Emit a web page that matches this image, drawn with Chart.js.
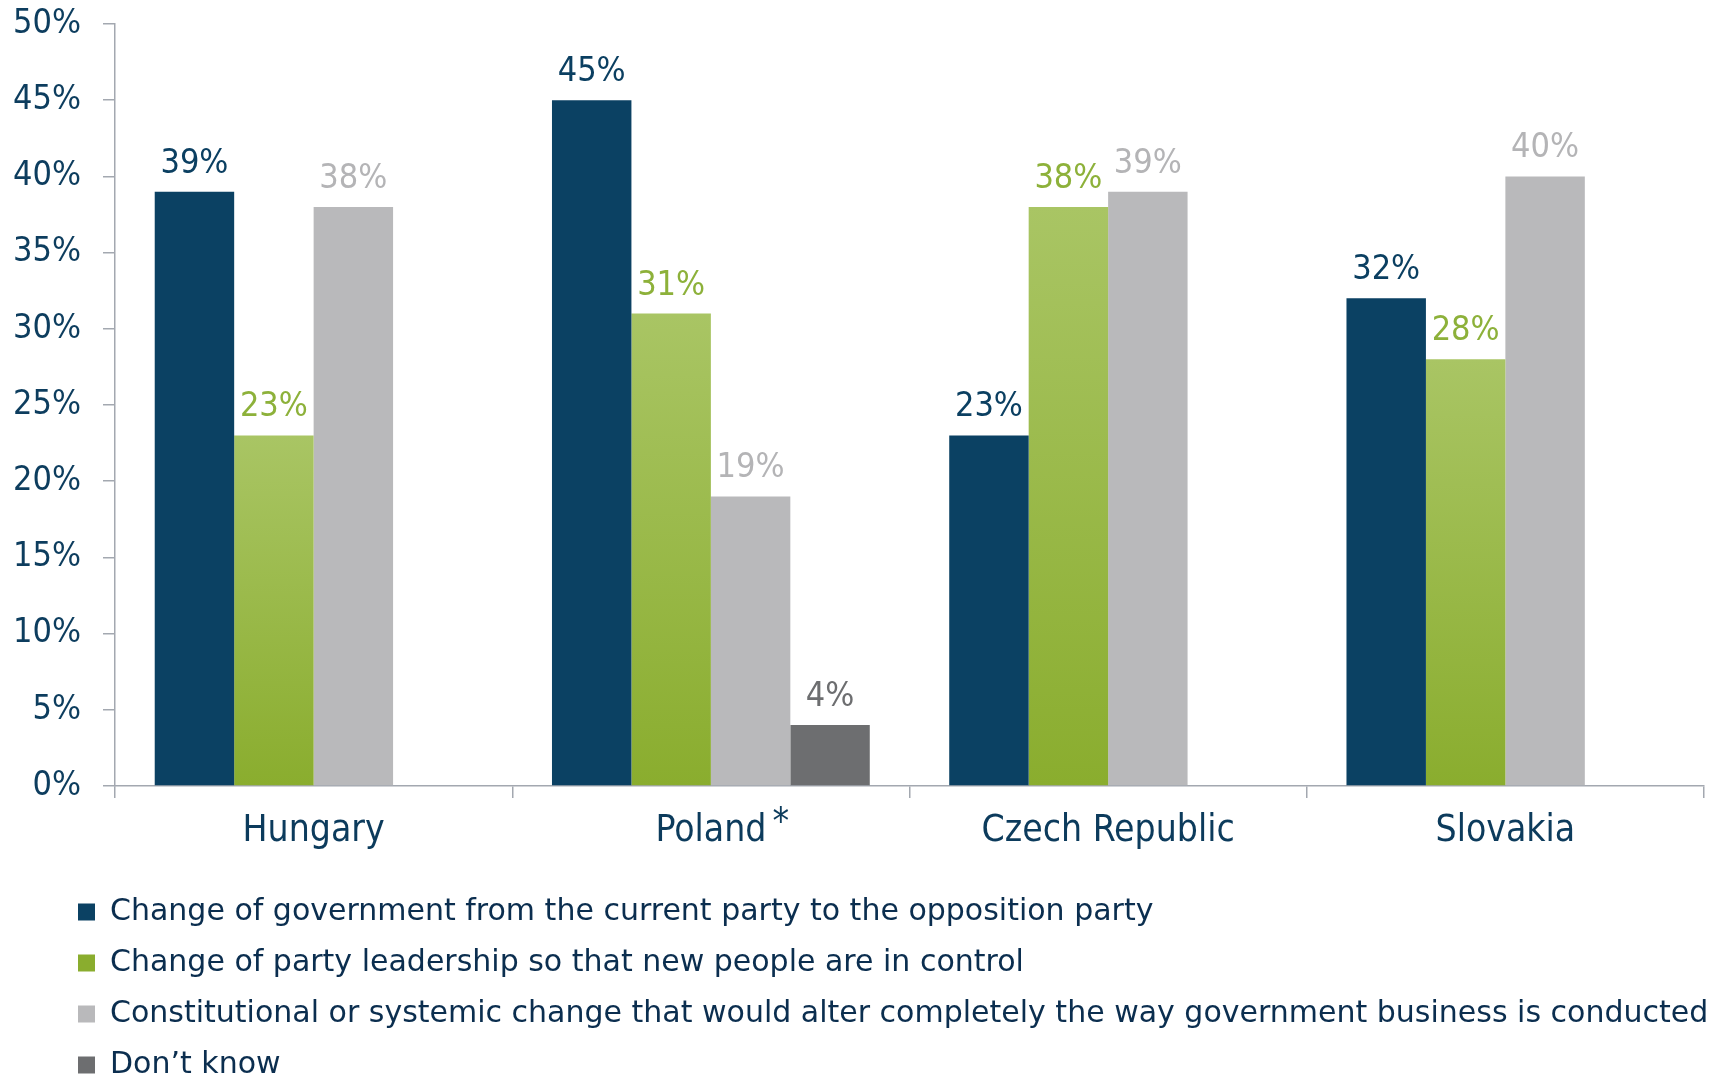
<!DOCTYPE html>
<html>
<head>
<meta charset="utf-8">
<script src="https://cdn.jsdelivr.net/npm/chart.js@4/dist/chart.umd.min.js"></script>
<style>
  html, body { margin: 0; padding: 0; background: #ffffff; overflow: hidden; }
  #wrap { width: 1712px; height: 1076px; position: relative; }
</style>
</head>
<body>
<div id="wrap"><canvas id="c" width="1712" height="1076"></canvas></div>
<script>
// ---- data ----
const categories = ['Hungary', 'Poland', 'Czech Republic', 'Slovakia'];
const footnoteMarks = ['', '*', '', ''];
const seriesNames = [
  'Change of government from the current party to the opposition party',
  'Change of party leadership so that new people are in control',
  'Constitutional or systemic change that would alter completely the way government business is conducted',
  'Don\u2019t know'
];
const changeOfGovernment = [39, 45, 23, 32];
const changeOfLeadership = [23, 31, 38, 28];
const systemicChange = [38, 19, 39, 40];
const dontKnow = [null, 4, null, null];
const yTicks = [0, 5, 10, 15, 20, 25, 30, 35, 40, 45, 50];

// ---- style ----
const FONT_C = '"DejaVu Sans Condensed", "DejaVu Sans", sans-serif';
const FONT = '"DejaVu Sans", sans-serif';
const NAVY = '#0b4163';
const GREEN_TOP = '#a9c564';
const GREEN_BOTTOM = '#8aad2e';
const GRAY = '#b9b9bb';
const DARK_GRAY = '#6d6e70';
const AXIS = '#a3a8b0';
const labelColors = ['#0b3f61', '#8db13a', '#b4b4b6', '#6d6e70'];
const LEGEND_INDENT = 47;

function greenFill(ctx) {
  const chart = ctx.chart;
  if (ctx.type !== 'data' || !chart.chartArea) return '#9cbc44';
  const v = ctx.raw;
  if (v == null) return GREEN_TOP;
  const y = chart.scales.y;
  const g = chart.ctx.createLinearGradient(0, y.getPixelForValue(v), 0, y.getPixelForValue(0));
  g.addColorStop(0, GREEN_TOP);
  g.addColorStop(1, GREEN_BOTTOM);
  return g;
}

const valueLabels = {
  id: 'valueLabels',
  afterDatasetsDraw(chart) {
    const ctx = chart.ctx;
    ctx.save();
    ctx.font = '34px ' + FONT_C;
    ctx.textAlign = 'center';
    ctx.textBaseline = 'alphabetic';
    chart.data.datasets.forEach((ds, i) => {
      const meta = chart.getDatasetMeta(i);
      meta.data.forEach((bar, j) => {
        const v = ds.data[j];
        if (v == null) return;
        ctx.fillStyle = labelColors[i];
        ctx.fillText(v + '%', bar.x, bar.y - 19);
      });
    });
    ctx.restore();
  }
};

const footnotes = {
  id: 'footnotes',
  afterDraw(chart) {
    const scale = chart.scales.x;
    const ctx = chart.ctx;
    const items = scale.getLabelItems ? scale.getLabelItems(chart.chartArea) : [];
    ctx.save();
    items.forEach((item, i) => {
      const mark = footnoteMarks[i];
      if (!mark) return;
      ctx.font = item.font.string;
      const w = ctx.measureText(item.label).width;
      const [x, y] = item.options.translation;
      const off = (item.textOffset !== undefined ? item.textOffset : item.options.textOffset) || 0;
      ctx.fillStyle = '#0c3b5c';
      ctx.textAlign = 'left';
      ctx.textBaseline = item.options.textBaseline || 'middle';
      ctx.fillText(mark, x + w / 2 + 6, y + off - 7);
    });
    ctx.restore();
  }
};

const legendIndent = {
  id: 'legendIndent',
  afterLayout(chart) {
    const lg = chart.legend;
    if (lg) { lg.left += LEGEND_INDENT; lg.right += LEGEND_INDENT; }
  }
};

new Chart(document.getElementById('c'), {
  type: 'bar',
  data: {
    labels: categories,
    datasets: [
      { label: seriesNames[0], data: changeOfGovernment, backgroundColor: NAVY },
      { label: seriesNames[1], data: changeOfLeadership, backgroundColor: greenFill },
      { label: seriesNames[2], data: systemicChange, backgroundColor: GRAY },
      { label: seriesNames[3], data: dontKnow, backgroundColor: DARK_GRAY }
    ]
  },
  options: {
    responsive: false,
    animation: false,
    devicePixelRatio: 1,
    datasets: { bar: { categoryPercentage: 0.8, barPercentage: 1.0, borderWidth: 0 } },
    layout: { padding: { left: 10, right: 8, top: 24, bottom: -14 } },
    plugins: {
      tooltip: { enabled: false },
      legend: {
        position: 'bottom',
        align: 'start',
        labels: {
          font: { family: FONT, size: 30 },
          color: '#0b2e4f',
          boxWidth: 17,
          boxHeight: 17,
          padding: 21
        }
      }
    },
    scales: {
      x: {
        offset: true,
        grid: { offset: true, drawOnChartArea: false, tickLength: 12, color: AXIS, lineWidth: 1.5 },
        border: { color: AXIS, width: 1.5 },
        ticks: { font: { family: FONT_C, size: 37 }, color: '#0c3b5c', padding: 11 },
        afterFit(s) { s.height = 90; }
      },
      y: {
        min: 0,
        max: 50,
        afterBuildTicks(s) { s.ticks = yTicks.map(v => ({ value: v })); },
        grid: { drawOnChartArea: false, tickLength: 12, color: AXIS, lineWidth: 1.5 },
        border: { color: AXIS, width: 1.5 },
        ticks: { font: { family: FONT_C, size: 34 }, color: '#0d3d5e', padding: 22, callback: v => v + '%' },
        afterFit(s) { s.width = 105; s.paddingTop = 0; s.paddingBottom = 0; }
      }
    }
  },
  plugins: [valueLabels, footnotes, legendIndent]
});
</script>
</body>
</html>
